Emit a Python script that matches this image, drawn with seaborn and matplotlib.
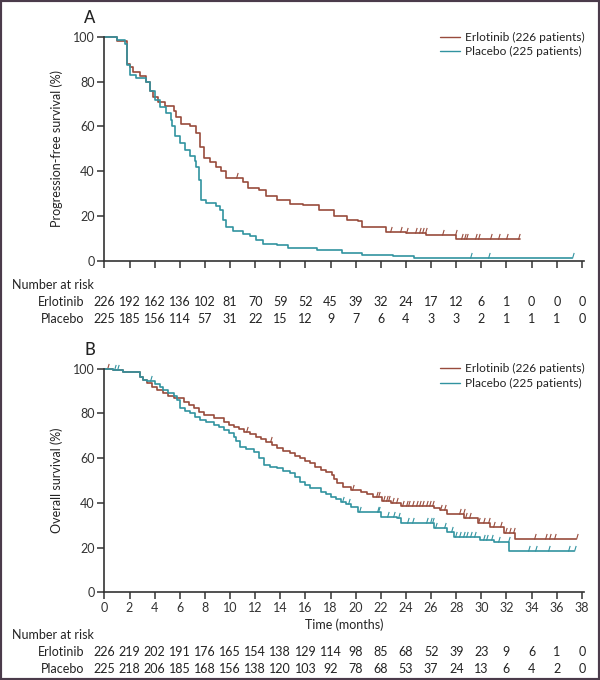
import numpy as np
import seaborn as sns
import matplotlib
matplotlib.use("Agg")
import matplotlib.pyplot as plt
from matplotlib.path import Path
from matplotlib.patches import Rectangle
from matplotlib.transforms import blended_transform_factory

# ---- dati ----
arm_labels = ["Erlotinib (226 patients)", "Placebo (225 patients)"]
row_names = ["Erlotinib", "Placebo"]
risk_times = list(range(0, 39, 2))

# A: progression-free survival (knots: from time t the curve is at s)
pfs_erl_t = [0, 1.0, 1.8, 2.0, 2.3, 2.8, 3.3, 3.6, 3.9, 4.3, 4.8, 5.5, 5.7, 6.1, 6.8, 7.3, 7.6, 7.9,
             8.4, 8.9, 9.3, 9.7, 11.0, 11.4, 12.3, 12.9, 13.7, 14.8, 15.8, 17.1, 18.3, 19.3, 20.2,
             20.5, 22.4, 24.0, 25.6, 28.0, 33.1]
pfs_erl_s = [100, 98, 88, 86.7, 84.5, 82.5, 80, 76, 73, 71, 69, 67, 64, 61, 60, 57, 51, 46,
             44, 42, 40, 37, 35, 32.5, 31.5, 28.7, 27, 25.4, 24.7, 22.8, 19.8, 18.3, 17.5,
             15, 12.8, 12.3, 11.6, 9.8, 9.8]
pfs_erl_cens = [10.5, 22.7, 23.5, 24.0, 24.7, 25.0, 25.3, 25.5, 26.9, 27.9, 28.4, 28.6, 28.8,
                29.5, 29.7, 30.7, 31.3, 32.0, 32.9]

pfs_pla_t = [0, 1.0, 1.6, 1.8, 2.0, 2.5, 3.3, 3.6, 4.0, 4.4, 4.9, 5.3, 5.4, 5.6, 6.0, 6.4, 6.8,
             7.2, 7.3, 7.5, 7.7, 8.1, 8.9, 9.2, 9.4, 9.7, 10.2, 11.0, 11.6, 12.1, 12.6, 13.7,
             14.6, 16.9, 18.9, 20.5, 23.0, 24.6, 37.2]
pfs_pla_s = [100, 98.7, 97, 87.5, 83, 81.5, 80, 76, 71.6, 68.9, 65.9, 63, 60, 55.5, 52.5, 49.6,
             46.6, 44.4, 42, 36, 27, 25.7, 24.2, 22.8, 18.3, 15, 13.4, 12, 10.8, 9, 7.6, 6.9,
             5.8, 4.9, 3.5, 2.6, 1.8, 1.3, 1.3]
pfs_pla_cens = [29.1, 30.5, 37.2]

pfs_risk_erl = [226, 192, 162, 136, 102, 81, 70, 59, 52, 45, 39, 32, 24, 17, 12, 6, 1, 0, 0, 0]
pfs_risk_pla = [225, 185, 156, 114, 57, 31, 22, 15, 12, 9, 7, 6, 4, 3, 3, 2, 1, 1, 1, 0]

# B: overall survival
os_erl_t = [0, 0.7, 1.5, 2.8, 3.1, 3.4, 3.8, 4.2, 4.7, 5.1, 5.5, 6.3, 6.7, 7.1, 7.5, 7.9, 8.7,
            9.5, 9.9, 10.3, 10.7, 11.1, 11.6, 12.1, 12.5, 12.9, 13.3, 13.7, 14.2, 14.8, 15.2,
            15.6, 16.0, 16.4, 16.8, 17.2, 17.6, 18.1, 18.3, 18.5, 19.0, 19.6, 20.4, 20.9, 21.4,
            22.1, 22.8, 23.6, 26.2, 26.7, 27.3, 28.6, 29.7, 30.7, 31.8, 32.7, 37.5]
os_erl_s = [100, 99.4, 98.7, 96.4, 95, 93.5, 92, 90.5, 89, 88, 86.8, 85.2, 83.7, 82.3, 80.8,
            79.3, 77.8, 76.3, 75, 74, 72.9, 71.8, 70.7, 69.6, 68.5, 67.4, 65.9, 64.4, 63.3,
            62.2, 61, 59.9, 58.8, 57.7, 56.2, 54.7, 53.6, 52.5, 50.5, 48.7, 47.2, 45.8, 45,
            43.9, 42.8, 41, 39.8, 38.6, 37.7, 36.8, 34.9, 33.1, 31.1, 29.3, 26.7, 23.7, 23.7]
os_erl_cens = [0.2, 11.3, 13.2, 19.7, 21.6, 21.8, 22.2, 22.4, 22.6, 22.9, 23.2, 23.7, 24.0,
               24.2, 24.5, 24.8, 25.0, 25.3, 25.6, 25.8, 26.1, 26.7, 27.0, 28.2, 28.5, 28.7,
               29.0, 29.7, 30.1, 30.5, 30.9, 31.5, 31.9, 32.2, 32.5, 34.2, 35.1, 35.4, 35.8, 37.5]

os_pla_t = [0, 0.7, 1.5, 2.8, 3.1, 3.4, 4.0, 4.4, 4.7, 5.1, 5.5, 5.8, 6.0, 6.4, 6.8, 7.2, 7.6,
            8.1, 8.7, 9.1, 9.5, 9.9, 10.3, 10.5, 10.8, 11.3, 11.9, 12.3, 12.7, 13.2, 13.7, 14.2,
            14.8, 15.2, 15.6, 16.0, 16.4, 17.2, 17.6, 18.0, 18.4, 18.8, 19.2, 19.6, 20.2, 22.0,
            23.3, 23.6, 26.2, 27.3, 27.8, 29.9, 31.0, 32.2, 37.4]
os_pla_s = [100, 99.4, 98.7, 96.4, 95, 94.5, 93, 92, 90.5, 89, 87.7, 86, 82.3, 81.2, 80, 78.5,
            77, 76, 74.8, 73.7, 72.6, 71.1, 69.6, 67.5, 65.1, 64, 62.9, 60, 56.9, 56.2, 55.5,
            54.4, 53.2, 51.4, 49.5, 48, 46.5, 45, 43.9, 42.8, 41.7, 40.5, 39.4, 38.3, 36, 33.8,
            33.1, 30.9, 28.6, 27.1, 24.6, 23.4, 22.6, 18.6, 18.6]
os_pla_cens = [0.8, 1.0, 3.6, 18.9, 19.4, 20.3, 21.7, 21.8, 22.5, 23.0, 23.4, 24.1, 24.5, 25.6,
               25.9, 26.1, 26.3, 27.0, 27.6, 27.9, 28.2, 28.5, 28.8, 29.1, 29.4, 30.1, 30.4,
               30.8, 31.3, 32.1, 33.7, 34.3, 35.3, 36.9, 37.4]

os_risk_erl = [226, 219, 202, 191, 176, 165, 154, 138, 129, 114, 98, 85, 68, 52, 39, 23, 9, 6, 1, 0]
os_risk_pla = [225, 218, 206, 185, 168, 156, 138, 120, 103, 92, 78, 68, 53, 37, 24, 13, 6, 4, 2, 0]

# ---- stile ----
BROWN = "#984b3c"
TEAL = "#3193a0"
INK = "#222222"
AXC = "#333333"

sns.set_style("ticks")
plt.rcParams["font.family"] = ["Lato", "DejaVu Sans"]
plt.rcParams["text.color"] = INK
plt.rcParams["axes.labelcolor"] = INK
plt.rcParams["xtick.color"] = AXC
plt.rcParams["ytick.color"] = AXC

tick_mark = Path([(0, 0), (0.3, 1)], [Path.MOVETO, Path.LINETO])


def curva(ax, t, s, cens, colore, etichetta):
    sns.lineplot(x=t, y=s, drawstyle="steps-post", color=colore, linewidth=1.2,
                 estimator=None, sort=False, ax=ax, label=etichetta, clip_on=False)
    t = np.asarray(t)
    s = np.asarray(s)
    idx = np.searchsorted(t, cens, side="right") - 1
    ax.plot(cens, s[idx], linestyle="none", marker=tick_mark, markersize=8,
            mfc="none", mec=colore, mew=0.8, clip_on=False)


def pannello(ax, lettera, ylab, show_xlabels):
    ax.set_xlim(0, 38.2)
    ax.set_ylim(0, 100)
    ax.set_xticks(risk_times)
    ax.set_yticks([0, 20, 40, 60, 80, 100])
    if not show_xlabels:
        ax.set_xticklabels([])
    ax.tick_params(direction="out", length=5, width=1.1, labelsize=9, pad=2)
    sns.despine(ax=ax)
    for sp in ("left", "bottom"):
        ax.spines[sp].set_linewidth(1.2)
        ax.spines[sp].set_color(AXC)
    ax.set_ylabel(ylab, fontsize=9, labelpad=7)
    ax.set_xlabel("")
    ax.text(-0.03, 1.085, lettera, transform=ax.transAxes, fontsize=12,
            ha="center", va="center", color=INK, fontweight="medium")
    leg = ax.legend(loc="upper right", bbox_to_anchor=(1.01, 1.045), frameon=False,
                    fontsize=8.6, handlelength=1.7, handletextpad=0.4, labelspacing=0.3,
                    borderaxespad=0)
    for h in leg.legend_handles:
        h.set_linewidth(1.0)


def tabella(fig, ax, y_title, y_rows, righe):
    tr = blended_transform_factory(ax.transData, fig.transFigure)
    fig.text(12 / 600, y_title, "Number at risk", fontsize=9, ha="left", va="center")
    for nome, valori, y in zip(row_names, righe, y_rows):
        fig.text(84 / 600, y, nome, fontsize=9, ha="right", va="center")
        for t, v in zip(risk_times, valori):
            ax.text(t, y, str(v), transform=tr, fontsize=9, ha="center", va="center")


fig = plt.figure(figsize=(6, 6.8), dpi=100)

axA = fig.add_axes([0.174, 0.6169, 0.8, 0.3287])
curva(axA, pfs_erl_t, pfs_erl_s, pfs_erl_cens, BROWN, arm_labels[0])
curva(axA, pfs_pla_t, pfs_pla_s, pfs_pla_cens, TEAL, arm_labels[1])
pannello(axA, "A", "Progression-free survival (%)", False)
tabella(fig, axA, 1 - 285 / 680, [1 - 302 / 680, 1 - 319 / 680], [pfs_risk_erl, pfs_risk_pla])

axB = fig.add_axes([0.174, 0.129, 0.8, 0.3288])
curva(axB, os_erl_t, os_erl_s, os_erl_cens, BROWN, arm_labels[0])
curva(axB, os_pla_t, os_pla_s, os_pla_cens, TEAL, arm_labels[1])
pannello(axB, "B", "Overall survival (%)", True)
axB.set_xlabel("Time (months)", fontsize=9, labelpad=3)
tabella(fig, axB, 1 - 635 / 680, [1 - 652 / 680, 1 - 669 / 680], [os_risk_erl, os_risk_pla])

fig.patches.append(Rectangle((0, 0), 1, 1, transform=fig.transFigure, fill=False,
                             edgecolor="#4b3b4b", linewidth=3))

fig.savefig("out.png", dpi=100)
